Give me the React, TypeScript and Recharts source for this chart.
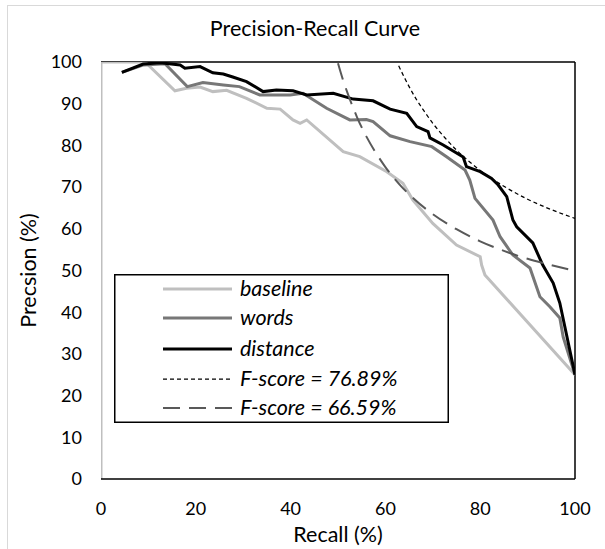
import React from 'react';
import { LineChart, Line, XAxis, YAxis, ReferenceLine, Legend } from 'recharts';

// values (recall %, precision %)
const baselineRecall = [0, 0, 9.3, 15.6, 18, 20.9, 23.6, 26.5, 30.7, 35, 37.8, 40.5, 42, 43.4, 51.1, 54.6, 60.3, 63.7, 65.8, 70, 75, 80, 80.3, 81, 100];
const baselinePrecision = [0, 100, 100, 93.1, 93.7, 94, 92.9, 93.2, 91.3, 88.9, 88.7, 86.1, 85.3, 86.1, 78.5, 77.3, 73.7, 70.9, 66.9, 61.3, 56.1, 53.3, 51.3, 48.9, 25];

const wordsRecall = [4.4, 9, 13.5, 18.2, 21.5, 25.8, 29.2, 33.5, 39.9, 42.6, 47.6, 52.5, 56, 57.4, 61, 65.2, 69.8, 72.9, 76.8, 77.8, 78.9, 82.7, 84.2, 86.9, 90.5, 92.6, 94.7, 96.8, 97.5, 100];
const wordsPrecision = [97.5, 99.3, 99.6, 94.1, 95.1, 94.5, 94.1, 92.1, 92.1, 92.5, 88.9, 86.1, 86.2, 85.7, 82.3, 80.9, 79.7, 77.3, 74.1, 71.7, 67.3, 62.1, 58.1, 53.7, 50.6, 43.7, 41.3, 38.6, 34.1, 25];

const distanceRecall = [4.4, 8.9, 12.5, 16.7, 17.7, 20.9, 23.6, 25.8, 27.8, 30.7, 34.2, 37, 40.5, 43.4, 49, 53.2, 57.4, 61, 64.5, 66.6, 69, 69.4, 72.2, 76.4, 77.1, 80, 82.4, 83.8, 85.6, 86.9, 87.7, 91.1, 93.2, 95.4, 96.8, 100];
const distancePrecision = [97.5, 99.5, 99.8, 99.3, 98.5, 98.9, 97.4, 97.1, 96.4, 95.3, 92.9, 93.3, 93.1, 92.1, 92.5, 91.1, 90.7, 88.7, 87.7, 84.5, 83.3, 81.8, 80.1, 77.2, 74.9, 73.7, 72.1, 70.5, 67.7, 62.1, 60.5, 56.6, 51.3, 47, 42.2, 25];

const fHighRecall = [62.8, 64, 65, 66.5, 68, 70, 72.5, 75, 77.5, 80, 85, 90, 95, 100];
const fHighPrecision = [99.1, 96.3, 94.1, 91.1, 88.5, 85.3, 81.9, 78.9, 76.3, 74.0, 70.2, 67.1, 64.6, 62.5];

const fLowRecall = [50, 51, 52, 53, 54, 56, 58, 60, 63, 66, 70, 75, 80, 85, 90, 95, 100];
const fLowPrecision = [99.7, 95.9, 92.6, 89.6, 86.8, 82.1, 78.2, 74.8, 70.6, 67.2, 63.5, 59.9, 57.0, 54.7, 52.8, 51.3, 49.9];

const xTicks = [0, 20, 40, 60, 80, 100];
const yTicks = [0, 10, 20, 30, 40, 50, 60, 70, 80, 90, 100];

const toPoints = (r: number[], p: number[]) => r.map((x, i) => ({ recall: x, precision: p[i] }));

const series = [
  { name: 'baseline', data: toPoints(baselineRecall, baselinePrecision), color: '#bfbfbf', width: 3, dash: undefined, type: 'linear' },
  { name: 'words', data: toPoints(wordsRecall, wordsPrecision), color: '#777777', width: 3, dash: undefined, type: 'linear' },
  { name: 'distance', data: toPoints(distanceRecall, distancePrecision), color: '#000000', width: 3, dash: undefined, type: 'linear' },
  { name: 'F-score = 76.89%', data: toPoints(fHighRecall, fHighPrecision), color: '#000000', width: 1.25, dash: '4 3', type: 'monotone' },
  { name: 'F-score = 66.59%', data: toPoints(fLowRecall, fLowPrecision), color: '#595959', width: 2, dash: '17 9', type: 'monotone' },
];

const font = 'Lato, "Open Sans", sans-serif';

const rowY = [15, 44, 75, 105, 134];

const LegendBox = () => (
  <svg width={335} height={149} style={{ display: 'block' }}>
    <rect x={0.75} y={0.75} width={333.5} height={147.5} fill="#fff" stroke="#000" strokeWidth={1.5} />
    {series.map((s, i) => (
      <g key={s.name}>
        <line x1={49} x2={118} y1={rowY[i]} y2={rowY[i]} stroke={s.color} strokeWidth={s.width} strokeDasharray={s.dash} />
        <text x={126} y={rowY[i] + 7} fontFamily={font} fontStyle="italic" fontSize={21.5} fill="#000">{s.name}</text>
      </g>
    ))}
  </svg>
);

const YLabel = (props: any) => {
  const { viewBox } = props;
  const cx = viewBox.x + 28;
  const cy = viewBox.y + viewBox.height / 2;
  return (
    <text x={cx} y={cy} transform={`rotate(-90, ${cx}, ${cy})`} textAnchor="middle" dominantBaseline="central"
      fontFamily={font} fontSize={21.5} fill="#000">Precsion (%)</text>
  );
};

const App = () => {
  return (
    <div style={{ position: 'absolute', left: 0, top: 0, width: 605, height: 549, overflow: 'hidden', background: '#fff' }}>
      <div style={{ position: 'absolute', left: 7, top: 5, width: 700, height: 700, border: '1px solid #d9d9d9' }} />
      <div style={{ position: 'absolute', left: 0, top: 15, width: 630, textAlign: 'center', fontFamily: font, fontSize: 21.5, lineHeight: '26px', color: '#000' }}>
        Precision-Recall Curve
      </div>
      <div style={{ position: 'absolute', left: 0, top: 0 }}>
        <LineChart width={605} height={549} margin={{ top: 62, right: 30, left: 0, bottom: 0 }}>
          <XAxis type="number" dataKey="recall" domain={[0, 100]} ticks={xTicks} interval={0} allowDataOverflow
            tickLine={false} tickSize={0} tickMargin={23} height={70}
            axisLine={{ stroke: '#000', strokeWidth: 1.5 }}
            tick={{ fill: '#000', fontSize: 18, fontFamily: font }}
            label={{ value: 'Recall (%)', position: 'insideBottom', offset: 7, fill: '#000', fontSize: 21.5, fontFamily: font }} />
          <YAxis type="number" domain={[0, 100]} ticks={yTicks} interval={0} allowDataOverflow
            tickLine={false} tickSize={0} tickMargin={19} width={101} axisLine={false}
            tick={{ fill: '#000', fontSize: 18, fontFamily: font }}
            label={<YLabel />} />
          <ReferenceLine y={100} stroke="#000" strokeWidth={1.5} />
          <ReferenceLine x={100} stroke="#000" strokeWidth={1.5} />
          {series.map((s) => (
            <Line key={s.name} data={s.data} dataKey="precision" name={s.name} type={s.type as any}
              stroke={s.color} strokeWidth={s.width} strokeDasharray={s.dash}
              dot={false} activeDot={false} isAnimationActive={false} />
          ))}
          <Legend layout="vertical" align="center" verticalAlign="middle" content={() => <LegendBox />}
            wrapperStyle={{ position: 'absolute', left: 114, top: 274, width: 335, height: 149 }} />
        </LineChart>
      </div>
    </div>
  );
};

export default App;
